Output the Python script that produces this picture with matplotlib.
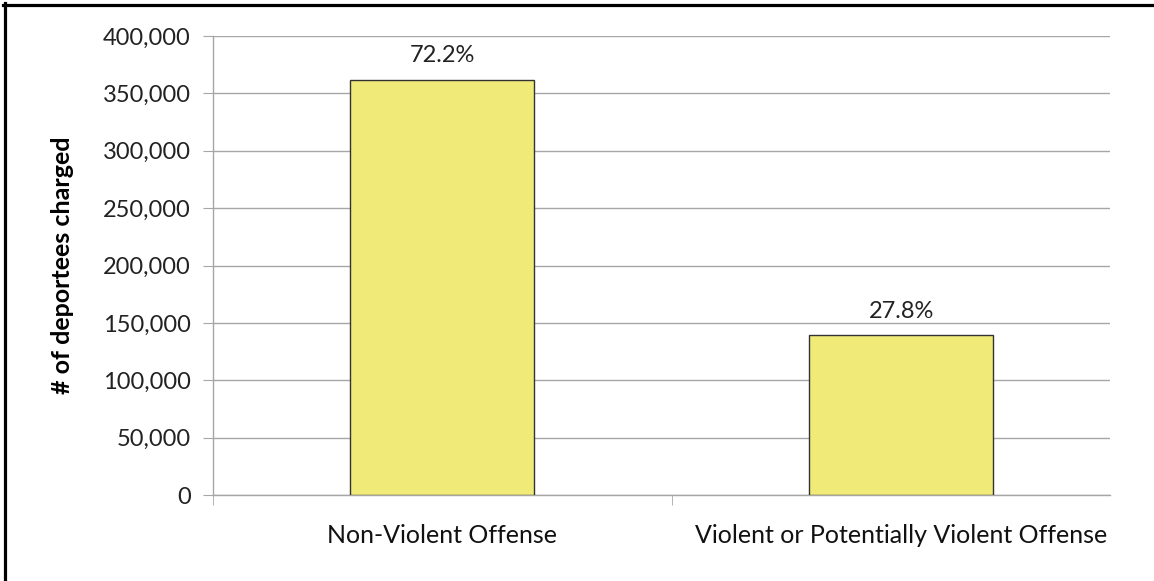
import matplotlib
matplotlib.use("Agg")
import matplotlib.pyplot as plt
from matplotlib.lines import Line2D
from matplotlib.ticker import FuncFormatter, FixedLocator

categories = ["Non-Violent Offense", "Violent or Potentially Violent Offense"]
values = [362000, 139000]
pct_labels = ["72.2%", "27.8%"]
yticks = [0, 50000, 100000, 150000, 200000, 250000, 300000, 350000, 400000]

W, H, DPI = 1154, 581, 100
fig = plt.figure(figsize=(W / DPI, H / DPI), dpi=DPI)
fig.patch.set_facecolor("white")

# axes placement in pixels
left, right, top, bottom = 213, 1110, 36, 495
ax = fig.add_axes([left / W, 1 - bottom / H, (right - left) / W, (bottom - top) / H])

x = [0, 1]
ax.bar(x, values, width=0.4, color="#F0EB78", edgecolor="#333333", linewidth=1.0, zorder=3)

ax.set_ylim(0, 400000)
ax.set_xlim(-0.499, 1.455)
ax.yaxis.set_major_locator(FixedLocator(yticks))
ax.yaxis.set_major_formatter(FuncFormatter(lambda v, p: f"{int(v):,}"))
ax.grid(axis="y", color="#A6A6A6", linewidth=1.0, zorder=0)
ax.set_axisbelow(True)

for s in ["top", "right"]:
    ax.spines[s].set_visible(False)
ax.spines["left"].set_color("#A6A6A6")
ax.spines["bottom"].set_color("#A6A6A6")
ax.spines["left"].set_linewidth(1.0)
ax.spines["bottom"].set_linewidth(1.0)

ax.tick_params(axis="y", length=7, color="#A6A6A6", labelsize=17, pad=9, labelcolor="#222222")
ax.set_xticks(x)
ax.set_xticklabels(categories, fontsize=18, fontfamily="Lato", color="#111111")
ax.tick_params(axis="x", length=0, pad=21)
ax.set_xticks([-0.499, 0.5], minor=True)
ax.tick_params(axis="x", which="minor", length=7, color="#A6A6A6", direction="out")

for lbl in ax.get_yticklabels():
    lbl.set_fontfamily("Lato")

for xi, v, t in zip(x, values, pct_labels):
    ax.annotate(t, (xi, v), xytext=(0, 10), textcoords="offset points",
                ha="center", va="bottom", fontsize=17, fontfamily="Lato", color="#222222")

fig.text(62 / W, 1 - 265 / H, "# of deportees charged", rotation=90, ha="center", va="center",
         fontsize=18, fontweight="bold", fontfamily="Lato", color="#000000")

# frame lines (top and left)
fig.add_artist(Line2D([3 / W, 1.0], [1 - 4.5 / H, 1 - 4.5 / H], transform=fig.transFigure,
                      color="black", linewidth=2.3))
fig.add_artist(Line2D([4.5 / W, 4.5 / W], [0.0, 1 - 3 / H], transform=fig.transFigure,
                      color="black", linewidth=2.3))

fig.savefig("out.png", dpi=DPI, facecolor="white")
